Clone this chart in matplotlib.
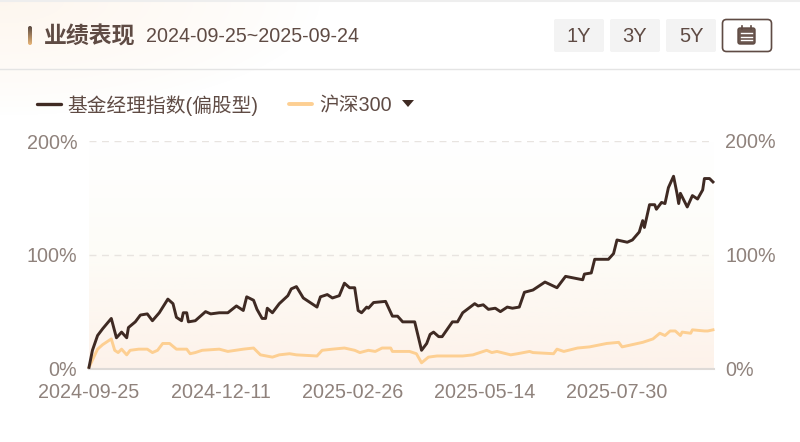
import numpy as np
import pandas as pd
import matplotlib
matplotlib.use("Agg")
import matplotlib.pyplot as plt
from matplotlib.colors import LinearSegmentedColormap
from matplotlib.patches import FancyBboxPatch, Polygon

plt.rcParams['font.family'] = ['Liberation Sans', 'Noto Sans CJK SC', 'DejaVu Sans']

START = pd.Timestamp("2024-09-25")
title = "业绩表现"
date_range = "2024-09-25~2025-09-24"
series_names = ["基金经理指数(偏股型)", "沪深300"]
range_buttons = ["1Y", "3Y", "5Y"]
x_tick_labels = ["2024-09-25", "2024-12-11", "2025-02-26", "2025-05-14", "2025-07-30"]
y_ticks = [0, 100, 200]

fund_days = [0,2,5,8,13,16,19,22,23,27,30,34,37,41,46,49,51,54,55,57,58,62,68,71,76,81,86,90,92,96,98,101,103,104,
             107,111,116,118,121,125,133,135,139,142,146,149,152,155,157,159,162,163,166,173,177,180,183,190,194,197,
             199,201,204,206,212,215,218,225,227,230,233,237,240,244,247,251,254,259,261,266,273,278,288,289,293,295,
             303,306,308,314,317,321,323,324,327,330,331,334,336,338,341,343,344,345,346,349,352,355,358,359,362,364]
fund_values = [1,16,29,35,44,27,32,27,36,41,47,48,42,49,61,57,45,42,49,49,41,42,50,48,49,49,55,51,63,60,52,44,44,53,
               49,57,64,70,72,62,54,63,65,62,64,75,71,71,51,49,54,53,58,59,46,46,41,41,16,22,
               30,32,28,28,41,41,49,57,55,56,52,53,50,54,53,54,67,69,71,76,71,81,78,83,84,96,
               96,101,113,111,113,120,130,124,144,144,140,146,145,159,169,154,145,154,151,142,152,149,157,167,167,164]

index_days = [0,5,8,13,15,17,19,22,24,29,34,37,40,43,47,51,57,59,62,66,76,81,90,96,100,107,111,117,121,133,136,142,
              149,155,158,163,167,171,176,177,187,191,194,198,203,218,224,228,232,235,238,246,250,257,259,271,273,277,
              285,292,302,309,311,320,323,329,333,336,339,342,345,346,351,352,359,361,364]
index_values = [1,17,21,26,16,14,17,12,16,17,17,14,16,22,22,17,17,13,14,16,17,15,17,18,12,10,12,13,12,11,16,17,
                18,16,14,16,15,18,18,15,15,13,5,10,11,11,12,14,16,14,15,12,13,15,14,13,17,15,
                18,19,22,23,19,22,23,26,31,29,33,33,29,32,31,34,33,33,34]

DARK = "#3f2a23"
ORANGE = "#fdcf92"
TEXT = "#5f4b44"
TICK = "#8f827c"

fig = plt.figure(figsize=(8, 4.42), dpi=100, facecolor="white")
W, H = 800, 442

bg = fig.add_axes([0, 0, 1, 1], zorder=0)
bg.set_xlim(0, W); bg.set_ylim(H, 0); bg.axis("off")

yy, xx = np.mgrid[0:115, 0:320]
tint = np.clip(1 - np.hypot(xx / 320, yy / 115), 0, 1) ** 0.8 * 0.6
rgba = np.zeros((115, 320, 4))
rgba[..., :3] = matplotlib.colors.to_rgb("#fdf1e4")
rgba[..., 3] = tint
bg.imshow(rgba, extent=(0, 320, 115, 0), aspect="auto", zorder=0)

pill = LinearSegmentedColormap.from_list("pill", ["#5b4a42", "#e8b578"])
im = bg.imshow(np.linspace(0, 1, 30)[:, None], cmap=pill, extent=(28, 32, 45, 26), aspect="auto", zorder=2)
im.set_clip_path(FancyBboxPatch((28, 26), 4, 19, boxstyle="round,pad=0,rounding_size=2", transform=bg.transData))
bg.set_xlim(0, W); bg.set_ylim(H, 0)

bg.plot([0, W], [1, 1], color="#eeeeee", lw=1.5, zorder=1)
bg.plot([0, W], [68.5, 68.5], color="#e4e4e4", lw=1, zorder=1)

bg.text(44, 37.5, title, fontsize=16.5, fontweight="bold", color=TEXT, va="center", ha="left",
        family=['Noto Sans CJK SC', 'DejaVu Sans'])
bg.text(146, 37, date_range, fontsize=14.1, color=TEXT, va="center", ha="left")

for x0, label in zip([554, 610, 666], range_buttons):
    bg.add_patch(FancyBboxPatch((x0, 19), 50, 33, boxstyle="round,pad=0,rounding_size=2",
                                fc="#f3f3f3", ec="none", zorder=1))
    bg.text(x0 + 25, 37, label, fontsize=14.5, color=TEXT, ha="center", va="center", zorder=2)
bg.add_patch(FancyBboxPatch((722.5, 19.5), 49, 32, boxstyle="round,pad=0,rounding_size=4",
                            fc="white", ec=TEXT, lw=1.2, zorder=1))
bg.add_patch(FancyBboxPatch((738, 28), 17, 16, boxstyle="round,pad=0,rounding_size=2",
                            fc="#6b574f", ec=TEXT, lw=1, zorder=2))
for y in (33, 37, 40):
    bg.plot([741, 752], [y, y], color="white", lw=1, zorder=3)
for x in (742, 751):
    bg.plot([x, x], [26, 29], color=TEXT, lw=1.2, zorder=3)

bg.plot([37, 61], [104, 104], color=DARK, lw=2.4, solid_capstyle="round", zorder=2)
bg.text(67, 106, series_names[0], fontsize=14.2, color=TEXT, va="center", ha="left",
        family=['Liberation Sans', 'Noto Sans CJK SC'])
bg.plot([289, 312], [104, 104], color=ORANGE, lw=2.8, solid_capstyle="round", zorder=2)
bg.text(319, 106, series_names[1], fontsize=14.2, color=TEXT, va="center", ha="left",
        family=['Liberation Sans', 'Noto Sans CJK SC'])
bg.add_patch(Polygon([(402, 100), (414, 100), (408, 107)], closed=True, fc=DARK, ec="none", zorder=2))

L, R, T, B = 89, 714, 141, 368.5
ax = fig.add_axes([L / W, 1 - B / H, (R - L) / W, (B - T) / H], zorder=1)
ax.patch.set_alpha(0)

fund_dates = START + pd.to_timedelta(fund_days, unit="D")
index_dates = START + pd.to_timedelta(index_days, unit="D")
tick_dates = pd.to_datetime(x_tick_labels)

area = LinearSegmentedColormap.from_list("area", ["#ffffff", "#fdfcf7", "#fdf2ea"])
ax.imshow(np.linspace(0, 1, 200)[:, None], cmap=area, extent=(0, 1, 0, 1), transform=ax.transAxes,
          aspect="auto", zorder=0)

ax.plot(fund_dates, fund_values, color=DARK, lw=2.1, solid_joinstyle="round", zorder=3, clip_on=False)
ax.plot(index_dates, index_values, color=ORANGE, lw=2.1, solid_joinstyle="round", zorder=2, clip_on=False)

ax.set_xlim(START, START + pd.Timedelta(days=364.6))
ax.set_ylim(0, 200)
ax.set_xticks(tick_dates)
ax.set_xticklabels(x_tick_labels)
ax.set_yticks(y_ticks)
ax.set_yticklabels([f"{v}%" for v in y_ticks])
ax.tick_params(axis="both", length=0, labelsize=14.2, labelcolor=TICK)
ax.tick_params(axis="x", pad=10.5)
ax.tick_params(axis="y", pad=8.5)
for side in ("top", "left", "right"):
    ax.spines[side].set_visible(False)
ax.spines["bottom"].set_color("#dedad7")
ax.spines["bottom"].set_linewidth(1.5)
ax.grid(axis="y", color="#e8e4e0", lw=1, ls=(0, (5, 4)), zorder=1)
ax.set_axisbelow(True)

axr = ax.twinx()
axr.set_zorder(0)
axr.set_ylim(0, 200)
axr.set_yticks(y_ticks)
axr.set_yticklabels([f"{v}%" for v in y_ticks])
axr.tick_params(axis="y", length=0, labelsize=14.2, labelcolor=TICK, pad=8)
for side in axr.spines:
    axr.spines[side].set_visible(False)

fig.savefig("out.png", dpi=100)
